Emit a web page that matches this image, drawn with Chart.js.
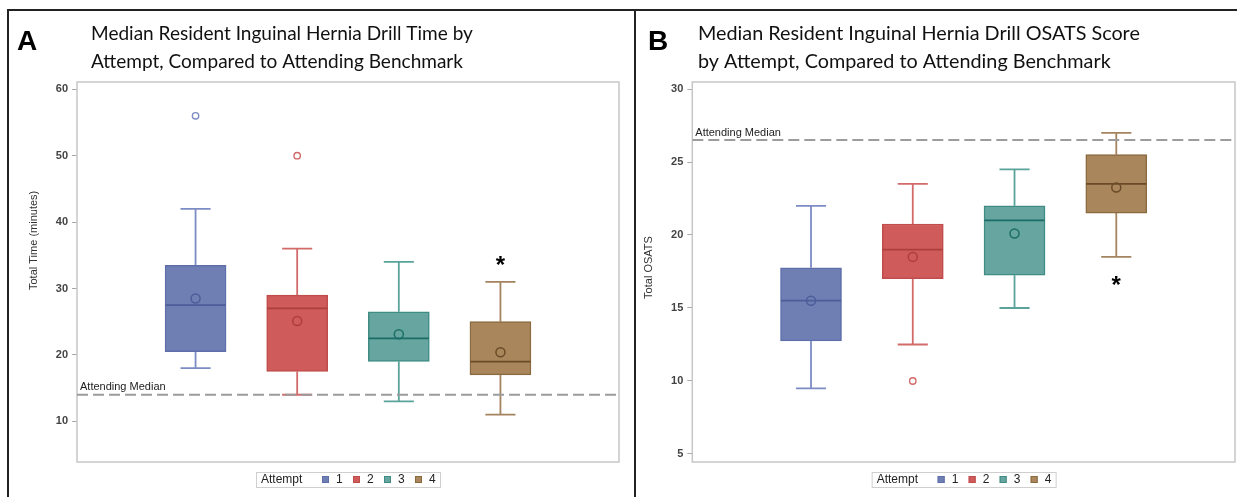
<!DOCTYPE html>
<html><head><meta charset="utf-8">
<script src="https://cdn.jsdelivr.net/npm/chart.js@4.4.0/dist/chart.umd.min.js"></script>
<style>
html,body{margin:0;padding:0;background:#fff;}
#wrap{position:relative;width:1237px;height:497px;overflow:hidden;background:#fff;}
.frame{position:absolute;background:#222;}
canvas{position:absolute;top:0;}
</style></head><body>
<div id="wrap">
<canvas id="cA" width="634" height="497" style="left:0px;width:634px;height:497px"></canvas>
<canvas id="cB" width="601" height="497" style="left:636px;width:601px;height:497px"></canvas>
<div class="frame" style="left:7px;top:9px;width:1230px;height:2px"></div>
<div class="frame" style="left:7px;top:9px;width:2px;height:488px"></div>
<div class="frame" style="left:634px;top:9px;width:2px;height:488px"></div>
</div>
<script>
// ---------- DATA ----------
const attempts = ['1', '2', '3', '4'];

// Panel A: Total Time (minutes)
const timeMin    = [18, 14, 13, 11];
const timeQ1     = [20.5, 17.5, 19, 17];
const timeMedian = [27.5, 27, 22.5, 19];
const timeQ3     = [33.5, 29, 26.5, 25];
const timeMax    = [42, 36, 34, 31];
const timeMean   = [28.5, 25.1, 23.1, 20.4];
const timeOutliers = [[56], [50], [], []];
const timeAttending = 14;
const timeTicks = [10, 20, 30, 40, 50, 60];

// Panel B: Total OSATS
const osatsMin    = [9.5, 12.5, 15, 18.5];
const osatsQ1     = [12.75, 17, 17.25, 21.5];
const osatsMedian = [15.5, 19, 21, 23.5];
const osatsQ3     = [17.75, 20.75, 22, 25.5];
const osatsMax    = [22, 23.5, 24.5, 27];
const osatsMean   = [15.5, 18.5, 20.1, 23.25];
const osatsOutliers = [[], [10], [], []];
const osatsAttending = 26.5;
const osatsTicks = [5, 10, 15, 20, 25, 30];

const significantAttempt = 4;

const titleA = ['Median Resident Inguinal Hernia Drill Time by', 'Attempt, Compared to Attending Benchmark'];
const titleB = ['Median Resident Inguinal Hernia Drill OSATS Score', 'by Attempt, Compared to Attending Benchmark'];

// ---------- STYLE ----------
const fillCol    = ['#6F7EB3', '#D05B5B', '#66A5A0', '#A9865B'];
const boxLine    = ['#5f6fac', '#c04c4c', '#3f8c84', '#8c6a40'];
const darkCol    = ['#4d5d9a', '#ab3f3a', '#1b6e66', '#6a4a28'];
const whiskerCol = ['#7d8cc4', '#d26a6a', '#5aa39b', '#a3845f'];
const SANS = "'Liberation Sans', Arial, sans-serif";

function buildChart(canvasId, d, look) {
  const capHalf = 0.148, boxHalf = 0.296;
  const datasets = [];
  // Boxes
  datasets.push({
    type: 'bar', order: 4,
    data: attempts.map((a, i) => ({x: i + 1, y: [d.q1[i], d.q3[i]]})),
    backgroundColor: fillCol, borderColor: boxLine, borderWidth: 1.5,
    borderSkipped: false, barThickness: 61
  });
  // Whiskers + caps
  attempts.forEach((a, i) => {
    const c = i + 1;
    datasets.push({
      type: 'line', order: 5,
      data: [
        {x: c, y: d.q3[i]}, {x: c, y: d.max[i]}, {x: c, y: null},
        {x: c - capHalf, y: d.max[i]}, {x: c + capHalf, y: d.max[i]}, {x: c, y: null},
        {x: c, y: d.q1[i]}, {x: c, y: d.min[i]}, {x: c, y: null},
        {x: c - capHalf, y: d.min[i]}, {x: c + capHalf, y: d.min[i]}
      ],
      borderColor: whiskerCol[i], borderWidth: 1.8, pointRadius: 0, fill: false, spanGaps: false
    });
    // Median
    datasets.push({
      type: 'line', order: 2,
      data: [{x: c - boxHalf, y: d.median[i]}, {x: c + boxHalf, y: d.median[i]}],
      borderColor: darkCol[i], borderWidth: 1.8, pointRadius: 0, fill: false
    });
  });
  // Means
  datasets.push({
    type: 'scatter', order: 1,
    data: attempts.map((a, i) => ({x: i + 1, y: d.mean[i]})),
    pointStyle: 'circle', pointRadius: 4.5, pointBorderWidth: 1.5,
    pointBackgroundColor: 'rgba(0,0,0,0)', pointBorderColor: darkCol
  });
  // Outliers
  const outPts = [], outCols = [];
  d.outliers.forEach((arr, i) => arr.forEach(v => { outPts.push({x: i + 1, y: v}); outCols.push(whiskerCol[i]); }));
  datasets.push({
    type: 'scatter', order: 1, data: outPts,
    pointStyle: 'circle', pointRadius: 3.2, pointBorderWidth: 1.4,
    pointBackgroundColor: 'rgba(0,0,0,0)', pointBorderColor: outCols
  });
  // Attending median reference line
  datasets.push({
    type: 'line', order: 0,
    data: [{x: -1/6, y: d.attending}, {x: 5 + 1/6, y: d.attending}],
    borderColor: '#9c9c9c', borderWidth: 2, borderDash: [11, 5], pointRadius: 0, fill: false
  });

  const decor = {
    id: 'decor',
    beforeDatasetsDraw(chart) {
      const ctx = chart.ctx, ca = chart.chartArea;
      ctx.save();
      ctx.strokeStyle = '#c6c6c6'; ctx.lineWidth = 1.5;
      ctx.strokeRect(ca.left, ca.top, ca.right - ca.left, ca.bottom - ca.top);
      ctx.restore();
    },
    afterDraw(chart) {
      const ctx = chart.ctx, ca = chart.chartArea, xs = chart.scales.x, ys = chart.scales.y;
      ctx.save();
      // Panel letter
      ctx.fillStyle = '#000';
      ctx.font = 'bold 28px ' + SANS;
      ctx.textAlign = 'left'; ctx.textBaseline = 'alphabetic';
      ctx.fillText(look.letter, look.letterX, 50);
      // Title (fit line 1 to measured width)
      let fs = 20;
      ctx.font = fs + "px Lato, 'Open Sans', sans-serif";
      const w = ctx.measureText(look.title[0]).width;
      fs = fs * look.titleW / w;
      ctx.font = fs.toFixed(2) + "px Lato, 'Open Sans', sans-serif";
      ctx.fillStyle = '#111';
      ctx.fillText(look.title[0], look.titleX, 39.5);
      ctx.fillText(look.title[1], look.titleX, 68);
      // Y axis title
      ctx.save();
      ctx.font = '11px ' + SANS; ctx.fillStyle = '#333';
      ctx.translate(ca.left - 43, look.yTitleY);
      ctx.rotate(-Math.PI / 2);
      ctx.textAlign = look.yTitleAlign; ctx.textBaseline = 'middle';
      ctx.fillText(look.yTitle, 0, 0);
      ctx.restore();
      // Attending Median label
      ctx.font = '11px ' + SANS; ctx.fillStyle = '#222';
      ctx.textAlign = 'left'; ctx.textBaseline = 'alphabetic';
      ctx.fillText('Attending Median', ca.left + 3, ys.getPixelForValue(d.attending) - 4.5);
      // Significance asterisk
      const si = significantAttempt - 1;
      const sx = xs.getPixelForValue(significantAttempt);
      const sy = look.starAbove ? ys.getPixelForValue(d.max[si]) - 22 : ys.getPixelForValue(d.min[si]) + 23;
      ctx.font = 'bold 24px ' + SANS; ctx.fillStyle = '#000'; ctx.textAlign = 'center';
      ctx.fillText('*', sx, sy + 13);
      // Legend
      const cx = (ca.left + ca.right) / 2;
      const lx = cx - 92, ly = 472;
      ctx.fillStyle = '#fff'; ctx.fillRect(lx, ly, 184, 15);
      ctx.strokeStyle = '#cfcfcf'; ctx.lineWidth = 1; ctx.strokeRect(lx + 0.5, ly + 0.5, 184, 15);
      ctx.font = '12px ' + SANS; ctx.fillStyle = '#222'; ctx.textAlign = 'left'; ctx.textBaseline = 'middle';
      ctx.fillText('Attempt', lx + 5, ly + 8);
      const sq = [66, 97, 128, 159];
      attempts.forEach((a, i) => {
        ctx.fillStyle = fillCol[i]; ctx.fillRect(lx + sq[i], ly + 4, 7, 7);
        ctx.strokeStyle = boxLine[i]; ctx.strokeRect(lx + sq[i] + 0.5, ly + 4.5, 6, 6);
        ctx.fillStyle = '#222'; ctx.fillText(a, lx + sq[i] + 14, ly + 8);
      });
      ctx.restore();
    }
  };

  return new Chart(document.getElementById(canvasId), {
    type: 'bar',
    data: {datasets},
    plugins: [decor],
    options: {
      responsive: false, animation: false, devicePixelRatio: 1,
      layout: {autoPadding: false, padding: look.padding},
      plugins: {legend: {display: false}, tooltip: {enabled: false}},
      scales: {
        x: {type: 'linear', display: false, offset: false, min: -1/6, max: 5 + 1/6, grid: {offset: false}},
        y: {
          type: 'linear', min: look.yMin, max: look.yMax,
          afterFit: s => { s.width = look.axisW; },
          afterBuildTicks: s => { s.ticks = d.ticks.map(v => ({value: v})); },
          border: {display: false},
          grid: {drawOnChartArea: false, drawTicks: true, tickLength: 5, color: '#a8a8a8', lineWidth: 1},
          ticks: {padding: 4, color: '#444', font: {family: SANS, size: 11, weight: 'bold'}}
        }
      }
    }
  });
}

buildChart('cA', {
  min: timeMin, q1: timeQ1, median: timeMedian, q3: timeQ3, max: timeMax,
  mean: timeMean, outliers: timeOutliers, attending: timeAttending, ticks: timeTicks
}, {
  letter: 'A', letterX: 17, title: titleA, titleX: 91, titleW: 382,
  yTitle: 'Total Time (minutes)', yTitleY: 290, yTitleAlign: 'left',
  padding: {left: 0, top: 82, right: 15, bottom: 35}, axisW: 77,
  yMin: 3.87, yMax: 61.1, starAbove: true
});

buildChart('cB', {
  min: osatsMin, q1: osatsQ1, median: osatsMedian, q3: osatsQ3, max: osatsMax,
  mean: osatsMean, outliers: osatsOutliers, attending: osatsAttending, ticks: osatsTicks
}, {
  letter: 'B', letterX: 12, title: titleB, titleX: 62, titleW: 442,
  yTitle: 'Total OSATS', yTitleY: 267.5, yTitleAlign: 'center',
  padding: {left: 0, top: 82, right: 2, bottom: 35}, axisW: 56.3,
  yMin: 4.45, yMax: 30.48, starAbove: false
});
</script>
</body></html>
